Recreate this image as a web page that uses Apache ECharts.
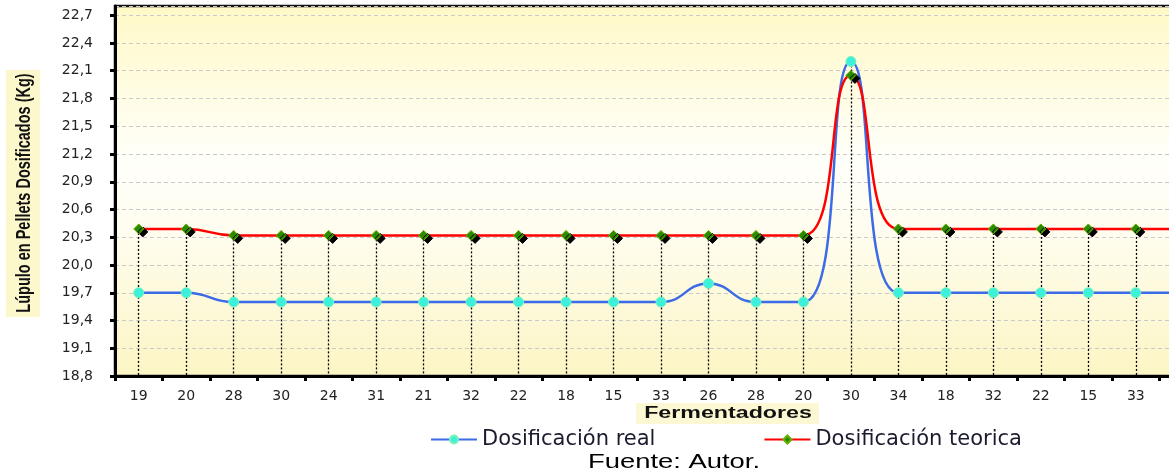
<!DOCTYPE html>
<html>
<head>
<meta charset="utf-8">
<script src="https://cdn.jsdelivr.net/npm/echarts@6/dist/echarts.min.js"></script>
<style>
  html, body { margin: 0; padding: 0; background: #ffffff; }
  #chart { width: 1169px; height: 476px; }
</style>
</head>
<body>
<div id="chart"></div>
<script>
// Fermentadores en el orden de dosificación
const categories = ['19','20','28','30','24','31','21','32','22','18','15','33','26','28','20','30','34','18','32','22','15','33','19'];

// Lúpulo en pellets dosificado (Kg)
const dosificacionReal = [19.7, 19.7, 19.6, 19.6, 19.6, 19.6, 19.6, 19.6, 19.6, 19.6, 19.6, 19.6, 19.8, 19.6, 19.6, 22.2, 19.7, 19.7, 19.7, 19.7, 19.7, 19.7, 19.7];
const dosificacionTeorica = [20.39, 20.39, 20.32, 20.32, 20.32, 20.32, 20.32, 20.32, 20.32, 20.32, 20.32, 20.32, 20.32, 20.32, 20.32, 22.05, 20.39, 20.39, 20.39, 20.39, 20.39, 20.39, 20.39];

// Eje Y
const yMin = 18.8;
const yMax = 22.8;
const yStep = 0.3;

const chart = echarts.init(document.getElementById('chart'), null, { renderer: 'canvas' });

// Líneas de referencia verticales desde el punto más alto de cada fermentador hasta el eje
const dropLines = categories.map((c, i) => [
  { coord: [i, Math.max(dosificacionReal[i], dosificacionTeorica[i])] },
  { coord: [i, yMin] }
]);

const plotBg = new echarts.graphic.LinearGradient(0, 0, 0, 1, [
  { offset: 0, color: '#fff9c6' },
  { offset: 0.42, color: '#fffffa' },
  { offset: 0.6, color: '#fffdf0' },
  { offset: 1, color: '#fcf5c4' }
]);

chart.setOption({
  animation: false,
  backgroundColor: '#ffffff',
  grid: {
    left: 115,
    top: 6,
    bottom: 100,
    width: 1092,
    containLabel: false,
    outerBoundsMode: 'none',
    show: true,
    backgroundColor: plotBg,
    borderColor: '#111111',
    borderWidth: 2.5
  },
  legend: {
    left: 430,
    top: 429,
    padding: 0,
    itemWidth: 46,
    itemHeight: 10,
    itemGap: 108,
    textStyle: { fontFamily: 'DejaVu Sans', fontSize: 21, color: '#1b1b2e' },
    data: ['Dosificación real', 'Dosificación teorica']
  },
  xAxis: {
    type: 'category',
    data: categories,
    boundaryGap: true,
    axisLine: { lineStyle: { color: '#000000', width: 3 } },
    axisTick: { show: true, length: 5, lineStyle: { color: '#000000', width: 3 } },
    axisLabel: { margin: 13, fontFamily: 'DejaVu Sans', fontSize: 14, color: '#222222', interval: 0 },
    splitLine: { show: false }
  },
  yAxis: {
    type: 'value',
    min: yMin,
    max: yMax,
    interval: yStep,
    axisLine: { show: true, lineStyle: { color: '#000000', width: 3 } },
    axisTick: { show: true, length: 5, lineStyle: { color: '#000000', width: 3 } },
    axisLabel: {
      margin: 22,
      showMaxLabel: false,
      fontFamily: 'DejaVu Sans',
      fontSize: 14,
      color: '#222222',
      formatter: v => v.toFixed(1).replace('.', ',')
    },
    splitLine: { show: true, lineStyle: { color: '#c9c9c9', width: 1, type: [4, 3] } }
  },
  graphic: [
    {
      type: 'rect',
      left: 6,
      top: 70,
      shape: { width: 34, height: 247 },
      style: { fill: '#fdf8cc' },
      silent: true
    },
    {
      type: 'text',
      x: 24,
      y: 193,
      rotation: Math.PI / 2,
      scaleY: 1.4,
      style: {
        text: 'Lúpulo en Pellets Dosificados (Kg)',
        font: 'bold 14.5px "Liberation Sans", Arial, sans-serif',
        fill: '#111111',
        align: 'center',
        verticalAlign: 'middle'
      },
      silent: true
    },
    {
      type: 'rect',
      left: 636,
      top: 403,
      shape: { width: 183, height: 21 },
      style: { fill: '#fdf8d4' },
      silent: true
    },
    {
      type: 'text',
      x: 728,
      y: 414,
      scaleX: 1.45,
      style: {
        text: 'Fermentadores',
        font: 'bold 16px "Liberation Sans", Arial, sans-serif',
        fill: '#111111',
        align: 'center',
        verticalAlign: 'middle'
      },
      silent: true
    },
    {
      type: 'text',
      x: 674,
      y: 462,
      scaleX: 1.37,
      style: {
        text: 'Fuente: Autor.',
        font: '20px "Liberation Sans", Arial, sans-serif',
        fill: '#000000',
        align: 'center',
        verticalAlign: 'middle'
      },
      silent: true
    }
  ],
  series: [
    {
      name: 'Dosificación real',
      type: 'line',
      data: dosificacionReal,
      smooth: 0.5,
      z: 3,
      symbol: 'circle',
      symbolSize: 10,
      lineStyle: { color: '#3b6be6', width: 2.5 },
      itemStyle: { color: '#3cf0dc', borderColor: '#7cf2b8', borderWidth: 1 }
    },
    {
      name: 'Dosificación teorica',
      type: 'line',
      data: dosificacionTeorica,
      smooth: 0.5,
      z: 4,
      symbol: 'diamond',
      symbolSize: 10,
      lineStyle: { color: '#ff0000', width: 2.5 },
      itemStyle: {
        color: '#2c8a00',
        borderColor: '#5fb000',
        borderWidth: 1,
        shadowColor: '#000000',
        shadowBlur: 0,
        shadowOffsetX: 4,
        shadowOffsetY: 3
      },
      markLine: {
        silent: true,
        symbol: ['none', 'none'],
        label: { show: false },
        z: 1,
        lineStyle: { color: '#000000', width: 1.3, type: [2, 2] },
        emphasis: { disabled: true },
        data: dropLines
      }
    }
  ]
});
</script>
</body>
</html>
